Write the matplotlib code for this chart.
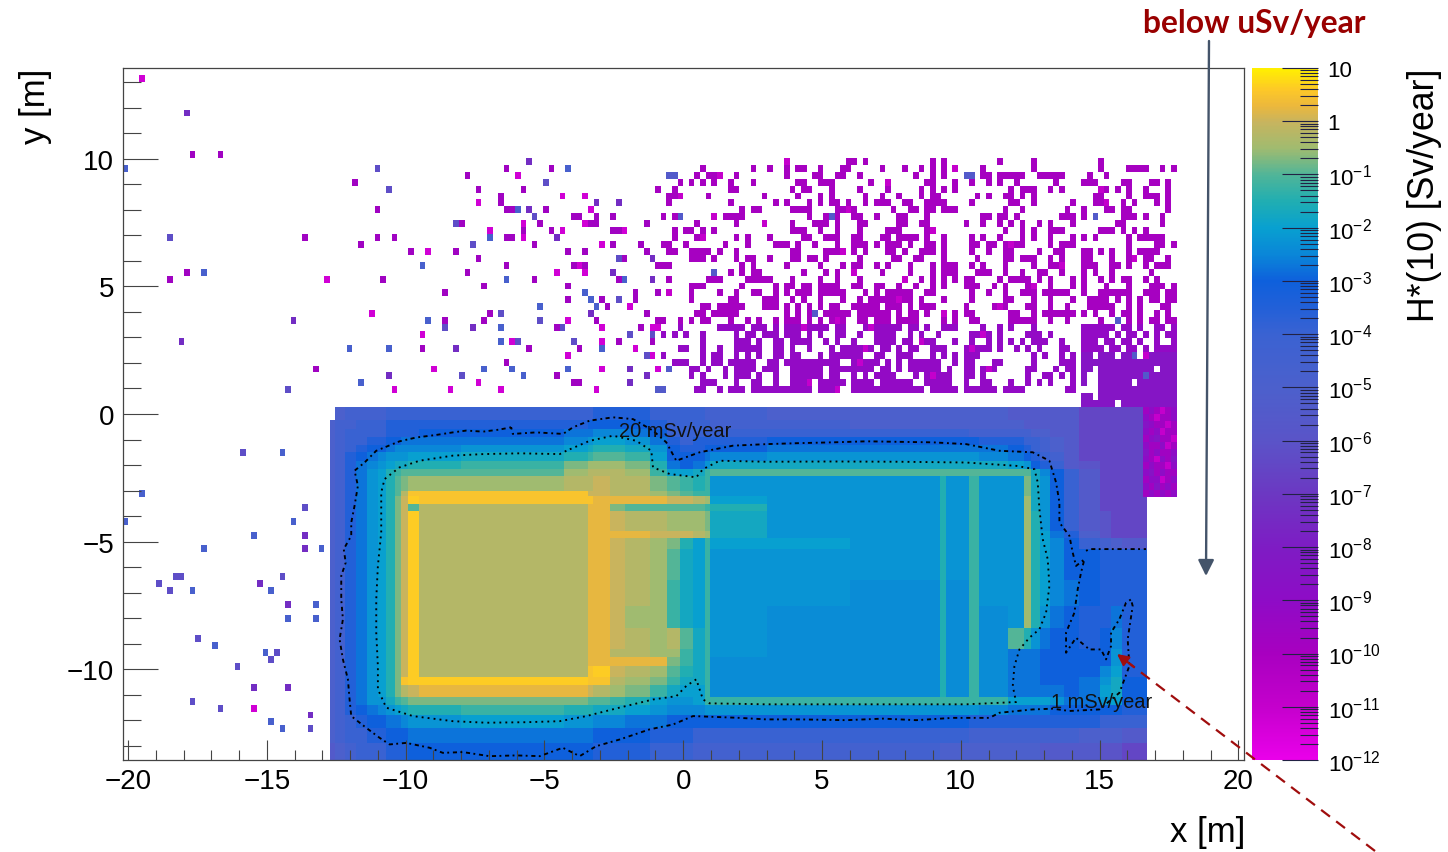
import numpy as np
import matplotlib
matplotlib.use('Agg')
from matplotlib import pyplot as plt
from matplotlib.colors import LinearSegmentedColormap, LogNorm
from matplotlib.lines import Line2D
from matplotlib.ticker import FixedLocator, FixedFormatter, LogLocator, NullFormatter, MultipleLocator

plt.rcParams['font.family'] = ['Liberation Sans', 'DejaVu Sans']
plt.rcParams['mathtext.fontset'] = 'custom'
plt.rcParams['mathtext.rm'] = 'Liberation Sans'
plt.rcParams['mathtext.default'] = 'regular'

# log10 of the dose for each letter used in the tables below
levels = dict(a=-6.5, b=-6, c=-5.5, d=-5, e=-4.5, f=-4, g=-3.5, h=-3, i=-2.75, j=-2.5, K=-2.38, k=-2.25,
              l=-2, m=-1.75, n=-1.5, o=-1.25, p=-1, q=-0.75, r=-0.5, s=-0.25, t=0, u=0.25, v=0.5, w=0.62,
              B=-8.5, U=-9, V=-9.7, M=-11)

# colour bar, log10 value and colour
cbar_pos = [-12, -11, -10, -9, -8, -7, -6, -5, -4, -3.5, -3, -2.5, -2, -1.5, -1, -0.5, 0, 0.3, 0.6, 1]
cbar_col = ['#ea00ea', '#c400cc', '#a800c0', '#8e0cc6', '#7e1cc4', '#6c38c2', '#5a54c8', '#4c60cc', '#3a62d2',
            '#2260d8', '#0e60dc', '#0a86d8', '#08a0d0', '#20aeb2', '#50b598', '#a0bb70', '#c8b45e', '#ecb83c',
            '#fdc828', '#fff000']
cbar_ticks = [1e-12, 1e-11, 1e-10, 1e-9, 1e-8, 1e-7, 1e-6, 1e-5, 1e-4, 1e-3, 1e-2, 1e-1, 1, 10]
cbar_labels = ['10$^{-12}$', '10$^{-11}$', '10$^{-10}$', '10$^{-9}$', '10$^{-8}$', '10$^{-7}$', '10$^{-6}$',
               '10$^{-5}$', '10$^{-4}$', '10$^{-3}$', '10$^{-2}$', '10$^{-1}$', '1', '10']

# the simulated hall, cell edges in metres
hall_x = [-12.72, -12.55, -12.2, -11.8, -11.4, -11.0, -10.7, -10.4, -10.15, -9.9, -9.53, -8, -6, -4.3, -3.43, -3.25,
          -2.65, -2.1, -1.2, -0.6, -0.1, 0.35, 0.77, 0.98, 3, 6, 9.25, 9.47, 10.31, 10.67, 11.71, 12.29, 12.53,
          12.85, 13.2, 13.7, 14.27, 15.0, 15.4, 15.8, 16.72, 17.77]
hall_y = [0.27, -0.24, -0.6, -0.9, -1.2, -1.5, -1.85, -2.16, -2.42, -3.0, -3.23, -3.53, -3.8, -4.6, -4.85, -5.3,
          -6.5, -7.5, -8.4, -9.2, -9.5, -9.85, -10.3, -10.6, -11.1, -11.41, -11.8, -12.3, -12.9, -13.55]
hall_rows = [
    '.deeeeffff fffffgggff ffeedddddd ccccccaaaaB',
    'deefffgggg gggghhhhgf fffeeddddd dcccccaaaaB',
    'deffffgggg hhhiijjihf ffffffffee eeddccaaaaB',
    'deffgghhii iiijkllkig fggghhhhhg gffedcaaaaB',
    'defghhijjj jkklmnnmkh gghhiiiiii hgfedcaaaaB',
    'deghijkkkl lmmnoppolh hhijkkkkkj ihgfecaaaaB',
    'degijklmmn nooqrrrqni hikmmmmmmm lkhgfcbaaaB',
    'degiklnopp ppprsssrol lmoppppppp ppmjhfcaaaB',
    'degiklnpqr rrrsstssqp onokkknkok kqmkhfcaaaB',
    'degiklnpsv vvvvttssrq pookkknkok kqmkhfcaaaB',
    'degiklnqtw vvvvvuuuut tsrlkknkok krmkhfcaaa.',
    'degiklnqtp ssssuuqppp pponkknkok krmkhfcaaa.',
    'degiklnqtw ssssuutssr rrqmkknkok krnkhfcbaa.',
    'degiklnqtw ssssuuuutt tsrmkknkok krnligdbaa.',
    'degiklnqtw ssssuutsrq nlollknkok krnljhfedc.',
    'degiklnqtw ssssuutsrp mlokkknkok krnljhhggg.',
    'degiklnqtw ssssuutsro mlokkKnKok krnljihggg.',
    'degiklnqtw ssssuutrro mlokKKnKoK krnkihggig.',
    'degiklnqtw ssssuutsrs pmokKKnKoK pnkihhghjg.',
    'degiklnqtw ssssuussrr omokKKnKoK iiihhhhhkg.',
    'degiklnqtw ssssuuuuuq omoKKKnKoK iiihhhhhkg.',
    'degiklnqtw ssssvwtsrp nmoKKKnKoK iiihhhhjlg.',
    'degiklnqvw wwwwvvsrqo mmoKKKnKoK iiihhhikmh.',
    'degiklnqst uuuutsrqom lloKKKnKoK iiiiihilmh.',
    'degikkmopq qqqqpponlk kloooooooo llllkiiklh.',
    'deghijklmn noonnmmlkj jjkkkkkkkj iiiihhhhhg.',
    'defghhiijk kllkkjjiih hhhhhhhhgg gggggggfff.',
    'deffgghhhi iiiiihhhgg gfffffffee eeeeeedddc.',
    'cdefffgggh hhhhhgggff feeeeedddd dddccccbba.',
]

# isolated cells as (column, row) of the 200 x 100 histogram
cells_blue = [(0, 14), (14, 29), (53, 28), (54, 36), (47, 40), (40, 40), (42, 45), (70, 20), (65, 24), (79, 14),
              (68, 30), (89, 30), (82, 32), (83, 33), (84, 34), (74, 34), (67, 37), (67, 39), (85, 40), (69, 43),
              (64, 43), (71, 44), (79, 43), (97, 43), (28, 55), (3, 61), (0, 65), (30, 65), (23, 67), (14, 69),
              (35, 69), (12, 75), (26, 75), (34, 77), (29, 79), (34, 79), (16, 83), (25, 84), (26, 94), (28, 95)]
cells_indigo = [(8, 24), (29, 46), (45, 14), (47, 17), (57, 37), (60, 44), (59, 22), (73, 21), (75, 16), (62, 25),
                (88, 27), (88, 33), (67, 35), (74, 36), (78, 37), (94, 38), (90, 38), (70, 39), (80, 39), (93, 41),
                (96, 46), (21, 55), (32, 63), (9, 73), (10, 73), (28, 73), (6, 74), (8, 75), (13, 82), (27, 84),
                (26, 85), (20, 86), (12, 91), (17, 92), (33, 95)]
cells_purple = [(11, 6), (10, 39), (30, 36), (47, 44), (59, 40), (72, 13), (72, 20), (84, 19), (88, 19), (77, 24),
                (87, 29), (94, 27), (94, 30), (62, 37), (83, 35), (96, 36), (90, 43), (90, 45), (93, 44), (32, 67),
                (32, 69), (24, 74), (29, 77), (23, 89), (29, 89), (33, 93)]
cells_violet = [(12, 12), (17, 12), (32, 24), (11, 29), (8, 30), (34, 43), (41, 16), (45, 20), (45, 24), (48, 24),
                (42, 25), (46, 30), (51, 26), (57, 32), (57, 36), (53, 40), (60, 22), (59, 26), (61, 15), (63, 17),
                (68, 14), (67, 18), (67, 19), (68, 20), (69, 20), (71, 17), (76, 14), (75, 20), (84, 21), (80, 21),
                (81, 21), (83, 22), (84, 22), (74, 22), (71, 23), (76, 23), (68, 24), (69, 24), (63, 27), (61, 29),
                (68, 28), (73, 25), (79, 26), (82, 26), (87, 25), (89, 27), (87, 23), (88, 23), (87, 21), (93, 22),
                (80, 28), (82, 28), (73, 30), (79, 31), (64, 31), (88, 30), (93, 26), (92, 25), (96, 25), (79, 33),
                (85, 33), (86, 34), (91, 32), (91, 33), (95, 32), (65, 35), (64, 36), (84, 36), (77, 37), (93, 35),
                (95, 36), (92, 37), (96, 38), (72, 40), (81, 40), (88, 39), (94, 39), (96, 41), (68, 42), (77, 44),
                (80, 45), (81, 45), (95, 46)]
cells_magenta = [(3, 1), (36, 30), (54, 26), (44, 35), (53, 38), (55, 43), (48, 46), (58, 46), (63, 19), (70, 15),
                 (78, 18), (82, 18), (83, 20), (82, 22), (71, 22), (71, 24), (78, 23), (65, 23), (85, 25), (89, 23),
                 (81, 28), (82, 29), (77, 29), (90, 34), (79, 36), (85, 37), (94, 37), (95, 37), (69, 39), (85, 39),
                 (91, 40), (79, 41), (94, 41), (85, 43), (95, 43), (63, 45), (67, 46), (84, 46), (23, 92)]

# cells above the hall on the right, read by row: {row: picture columns}
right_rows = {
    13: [24, 36, 37, 39, 52, 54, 64, 71, 83],
    14: [8, 18, 21, 24, 26, 27, 30, 35, 36, 42, 46, 49, 51, 54, 56, 61, 71, 83, 89, 90, 91, 92, 95, 97],
    15: [2, 3, 7, 9, 10, 11, 15, 24, 29, 30, 33, 35, 38, 48, 51, 54, 58, 59, 61, 62, 64, 65, 66, 67, 68, 72, 73, 74,
         75, 76, 81, 84],
    16: [4, 6, 8, 10, 13, 18, 26, 27, 30, 31, 32, 40, 43, 50, 51, 56, 59, 62, 64, 67, 75, 80, 81, 82, 87, 89, 93, 94,
         96],
    17: [0, 3, 13, 14, 25, 27, 28, 32, 38, 43, 49, 51, 54, 56, 66, 68, 69, 70, 74, 76, 83, 84, 86, 89, 92, 96],
    18: [2, 3, 4, 9, 20, 26, 30, 32, 39, 42, 45, 49, 51, 52, 53, 60, 62, 65, 66, 68, 70, 82, 83, 89, 92, 93, 94, 96],
    19: [2, 13, 22, 24, 28, 30, 32, 33, 36, 39, 41, 42, 43, 46, 47, 50, 52, 53, 54, 59, 66, 67, 71, 78, 82, 83, 84,
         87, 90, 94, 96],
    20: [16, 18, 19, 25, 26, 27, 28, 34, 35, 36, 37, 44, 47, 48, 50, 51, 54, 55, 56, 65, 68, 77, 80, 84, 85, 87, 88,
         96],
    21: [1, 3, 4, 10, 12, 13, 14, 16, 28, 31, 32, 33, 34, 37, 38, 41, 45, 46, 50, 61, 62, 64, 65, 67, 76, 77, 78, 80,
         82, 87, 88, 90, 92, 95],
    22: [7, 14, 15, 20, 25, 29, 30, 31, 33, 38, 39, 45, 46, 49, 50, 58, 61, 64, 66, 68, 72, 74, 78, 86, 87, 95],
    23: [3, 5, 6, 8, 10, 25, 26, 27, 30, 34, 38, 43, 44, 45, 50, 51, 52, 65, 68, 70, 71, 74, 75, 76, 83, 84, 85, 87,
         90, 92],
    24: [3, 7, 8, 14, 15, 17, 21, 27, 28, 31, 32, 34, 37, 38, 42, 43, 45, 46, 47, 48, 50, 54, 59, 61, 64, 68, 70, 74,
         78, 80, 82, 88, 91, 92, 93, 94, 95],
    25: [1, 2, 5, 12, 17, 22, 23, 24, 26, 29, 34, 37, 38, 39, 41, 43, 44, 45, 47, 50, 51, 54, 59, 60, 62, 63, 65, 66,
         67, 68, 74, 76, 77, 78, 89, 94, 95, 97],
    26: [2, 3, 6, 7, 8, 9, 11, 14, 25, 26, 31, 32, 33, 35, 37, 39, 43, 44, 46, 49, 50, 51, 54, 59, 62, 65, 66, 72, 75,
         76, 80, 81, 83, 85, 89, 91, 92, 93, 94],
    27: [6, 7, 8, 10, 14, 17, 18, 21, 25, 26, 28, 29, 31, 38, 44, 45, 48, 49, 54, 60, 65, 66, 68, 69, 70, 74, 76, 80,
         81, 85, 88, 90, 92, 93, 96],
    28: [0, 1, 2, 16, 18, 24, 30, 35, 37, 38, 41, 43, 47, 51, 52, 54, 55, 56, 59, 61, 65, 70, 74, 75, 76, 80, 81, 82,
         85, 86, 88, 92, 94, 95, 96],
    29: [10, 13, 16, 18, 19, 27, 31, 33, 34, 37, 42, 47, 51, 54, 55, 56, 60, 61, 62, 65, 68, 72, 73, 76, 80, 82, 85,
         93],
    30: [2, 9, 10, 11, 17, 18, 19, 20, 21, 25, 30, 34, 38, 46, 49, 52, 54, 56, 58, 59, 64, 66, 67, 68, 69, 72, 74, 78,
         80, 83, 85, 87, 89, 92, 94],
    31: [6, 7, 8, 16, 22, 24, 25, 27, 28, 30, 31, 32, 33, 37, 38, 41, 42, 45, 48, 51, 54, 58, 59, 60, 63, 65, 69, 70,
         71, 74, 78, 80, 84, 88, 89, 93, 94, 95, 97],
    32: [2, 6, 11, 14, 18, 19, 22, 24, 26, 27, 28, 30, 31, 32, 34, 35, 39, 41, 43, 44, 45, 46, 47, 50, 51, 59, 62, 65,
         68, 69, 70, 71, 73, 74, 75, 76, 77, 80, 83, 84, 85, 86, 87, 88, 92, 93, 94, 96, 97],
    33: [6, 13, 15, 20, 21, 22, 25, 27, 30, 35, 38, 40, 41, 42, 43, 44, 45, 46, 47, 49, 54, 59, 65, 66, 70, 74, 78, 81,
         82, 83, 84, 86, 88, 91, 93, 94, 96, 97],
    34: [8, 9, 11, 12, 13, 15, 16, 20, 21, 22, 24, 26, 28, 30, 32, 33, 34, 37, 38, 39, 40, 41, 43, 44, 45, 47, 49, 50,
         52, 58, 63, 64, 65, 69, 70, 74, 77, 81, 82, 83, 84, 85, 88, 89, 91, 95, 96],
    35: [7, 8, 10, 11, 12, 13, 15, 24, 26, 28, 29, 31, 32, 33, 34, 35, 36, 38, 39, 40, 41, 42, 43, 45, 47, 48, 50, 54,
         56, 58, 59, 66, 67, 70, 73, 74, 75, 76, 77, 78, 80, 82, 85, 87, 88, 89, 91, 94, 96],
    36: [0, 1, 4, 6, 8, 9, 13, 17, 19, 22, 24, 25, 26, 28, 30, 32, 33, 34, 35, 38, 39, 41, 42, 43, 45, 46, 47, 48, 54,
         56, 59, 60, 66, 67, 68, 69, 70, 71, 74, 77, 83, 86, 88, 89, 91, 93, 94, 96, 97],
    37: [4, 11, 12, 13, 15, 16, 18, 19, 20, 22, 24, 25, 26, 27, 28, 29, 30, 31, 33, 35, 39, 40, 41, 42, 43, 44, 45, 47,
         48, 50, 54, 55, 56, 61, 64, 66, 70, 71, 80, 81, 82, 83, 84, 85, 87, 89, 91, 94, 95, 97],
    38: [1, 3, 5, 8, 14, 15, 17, 18, 20, 21, 22, 24, 25, 26, 28, 30, 33, 34, 35, 38, 41, 42, 43, 44, 47, 49, 53, 59, 60,
         61, 62, 64, 69, 70, 72, 74, 80, 81, 82, 83, 84, 86, 88, 90, 92, 94, 96, 97],
    39: [8, 15, 16, 17, 19, 22, 23, 25, 26, 27, 28, 31, 33, 34, 37, 41, 42, 43, 44, 46, 47, 49, 50, 52, 56, 59, 62, 64,
         66, 68, 70, 72, 73, 76, 80, 81, 82, 84, 85, 87, 89, 91, 94, 97],
    40: [4, 5, 8, 11, 14, 15, 16, 17, 18, 19, 22, 23, 25, 28, 32, 35, 36, 37, 38, 39, 40, 42, 43, 45, 47, 48, 51, 53,
         54, 58, 59, 60, 61, 62, 64, 67, 69, 72, 76, 77, 80, 81, 82, 83, 85, 86, 88, 89, 90, 92, 94, 95, 96, 97],
    41: [1, 8, 10, 11, 15, 17, 19, 22, 23, 25, 26, 30, 32, 34, 35, 36, 37, 38, 41, 42, 45, 46, 47, 51, 52, 54, 56, 58,
         59, 60, 70, 73, 76, 78, 80, 81, 83, 84, 85, 87, 88, 89, 90, 92, 93, 94, 95, 96, 97],
    42: [3, 4, 5, 8, 10, 11, 13, 15, 16, 17, 18, 21, 22, 24, 25, 26, 27, 28, 29, 30, 31, 32, 34, 37, 38, 39, 40, 41, 43,
         45, 47, 48, 49, 50, 51, 53, 56, 58, 59, 63, 64, 71, 76, 77, 78, 80, 81, 82, 83, 84, 85, 86, 87, 88, 89, 90, 91,
         92, 93, 94, 95, 96, 97],
    43: [2, 6, 7, 9, 12, 15, 16, 17, 18, 20, 21, 22, 25, 26, 27, 28, 29, 30, 32, 33, 34, 35, 36, 37, 38, 39, 40, 42, 43,
         45, 47, 48, 49, 50, 51, 52, 53, 55, 58, 59, 61, 62, 63, 69, 70, 75, 77, 78, 80, 81, 83, 84, 85, 86, 87, 88, 89,
         90, 91, 92, 93, 95, 96, 97],
    44: [6, 8, 12, 14, 15, 16, 17, 19, 22, 25, 26, 27, 28, 29, 30, 32, 34, 37, 39, 41, 42, 43, 44, 48, 50, 51, 52, 53,
         54, 55, 58, 59, 61, 69, 73, 74, 76, 78, 80, 83, 84, 85, 86, 87, 88, 89, 90, 91, 92, 93, 94, 95, 96, 97],
    45: [8, 9, 10, 14, 15, 18, 19, 22, 25, 26, 27, 28, 30, 31, 32, 33, 34, 35, 37, 38, 39, 40, 42, 43, 44, 45, 46, 47,
         50, 51, 52, 53, 54, 55, 58, 61, 62, 66, 69, 72, 74, 78, 80, 83, 84, 85, 86, 87, 88, 89, 91, 92, 93, 94, 95, 96,
         97],
    46: [0, 1, 7, 8, 11, 13, 15, 16, 18, 19, 20, 21, 22, 23, 24, 25, 26, 27, 28, 30, 31, 32, 33, 34, 37, 38, 39, 40, 41,
         42, 43, 44, 45, 46, 47, 48, 49, 51, 52, 53, 54, 55, 56, 58, 59, 60, 61, 62, 63, 65, 66, 67, 68, 77, 78, 83, 84,
         85, 86, 87, 88, 89, 90, 91, 92, 93, 94, 95, 96, 97],
    47: [80, 81, 83, 84, 85, 86, 87, 88, 89, 90, 91, 92, 93, 94, 95, 96, 97],
    48: [80, 81, 82, 83, 84, 85, 87, 88, 89, 90, 91, 92, 93, 94, 95, 96, 97],
}
right_magenta = [(13, 24), (15, 11), (21, 10), (22, 20), (14, 56), (24, 8), (18, 4), (32, 2), (16, 43), (20, 36),
                 (25, 66), (28, 76), (37, 40), (40, 59), (43, 62), (46, 34), (41, 92), (27, 90), (30, 46), (35, 54),
                 (23, 52), (26, 35), (31, 71), (33, 45), (36, 33), (38, 61), (39, 49), (42, 38), (44, 52), (45, 28),
                 (34, 64), (29, 37), (19, 84), (17, 83), (37, 27), (40, 39)]
right_blue = [(15, 2), (15, 3), (15, 58), (15, 59), (21, 4), (21, 32), (29, 10), (35, 29), (43, 2), (36, 86),
              (21, 82), (46, 0), (46, 1), (44, 92), (41, 90)]

# mottled strip at the right end of the block, columns 182-187 from row 49
strip_rows = ['VUVMVU', 'UVMVVU', 'BUVVMV', 'UVUMVV', 'VUBVVM', 'UVVUMV', 'BVUVVU', 'UVMUVB', 'VUVVMU', 'UBVUVV',
              'VUUMVU', 'UVBVUV', 'VUVUVU']

# dose contours, metres
mSv1_x = [-6.20, -6.62, -7.21, -7.82, -8.30, -8.90, -9.62, -10.22, -11.06, -11.48, -11.84, -11.72, -11.84, -11.96,
          -11.96, -12.23, -12.16, -12.32, -12.32, -12.26, -12.38, -12.26, -12.08, -12.02, -11.96, -11.42, -10.94,
          -10.58, -9.98, -9.14, -8.66, -7.94, -6.98, -6.02, -5.17, -4.34, -3.73, -3.14, -2.30, -1.21, -0.37, 0.35,
          1.07, 2.03, 2.99, 4.19, 5.87, 7.19, 8.39, 9.71, 11.03, 11.39, 12.59, 13.31, 13.91, 14.99, 15.71, 16.07,
          16.01, 16.19, 16.13, 15.95, 15.71, 15.41, 15.41, 15.23, 15.05, 14.63, 14.27, 14.15, 13.79, 13.79, 14.09,
          14.21, 14.33, 14.45, 14.15, 14.03, 13.91, 13.55, 13.55, 13.43, 13.19, 12.59, 11.39, 10.19, 8.99, 7.79,
          6.59, 5.39, 4.19, 2.99, 1.79, 0.59, -0.25, -0.61, -1.09, -1.81, -2.53, -3.37, -3.97, -4.33, -5.30, -6.14,
          -6.20]
mSv1_y = [-0.52, -0.61, -0.69, -0.65, -0.72, -0.82, -0.92, -1.07, -1.44, -1.90, -2.22, -2.81, -3.59, -4.25, -4.77,
          -5.29, -5.82, -6.34, -7.26, -8.04, -8.82, -9.61, -10.39, -11.18, -11.83, -12.29, -12.68, -12.94, -12.88,
          -13.07, -13.27, -13.24, -13.40, -13.37, -13.40, -13.07, -13.40, -13.01, -12.75, -12.35, -12.16, -11.83,
          -11.86, -11.90, -11.96, -11.96, -11.99, -11.93, -11.99, -11.90, -11.90, -11.70, -11.57, -11.54, -11.63,
          -11.57, -10.92, -9.87, -8.82, -7.52, -7.26, -7.39, -8.04, -8.56, -9.09, -9.61, -9.22, -9.22, -8.89, -8.76,
          -9.35, -8.56, -7.78, -6.86, -6.21, -5.69, -5.95, -5.43, -4.77, -4.25, -3.46, -2.68, -1.83, -1.50, -1.44,
          -1.18, -1.11, -1.09, -1.07, -1.11, -1.14, -1.18, -1.24, -1.50, -1.83, -1.11, -0.65, -0.20, -0.13, -0.26,
          -0.52, -0.78, -0.72, -0.78, -0.52]
mSv1_side_x = [14.51, 14.63, 15.35, 16.67]
mSv1_side_y = [-5.36, -5.29, -5.29, -5.29]
mSv20_x = [-4.21, -4.45, -5.90, -7.21, -8.30, -9.50, -10.22, -10.76, -10.88, -10.88, -11.00, -11.06, -11.06, -11.00,
           -11.00, -10.70, -9.74, -8.30, -7.10, -5.66, -4.45, -3.49, -2.30, -1.09, -0.25, 0.11, 0.47, 0.71, 0.95,
           2.99, 5.39, 7.79, 10.19, 11.99, 11.87, 11.93, 12.11, 12.47, 12.83, 13.07, 13.19, 13.13, 12.95, 12.83,
           12.77, 12.65, 11.99, 10.19, 7.79, 5.39, 2.99, 1.31, 0.71, 0.47, -0.49, -1.09, -1.15, -1.69, -2.53, -3.37,
           -4.21]
mSv20_y = [-1.44, -1.57, -1.54, -1.57, -1.63, -1.83, -2.09, -2.55, -3.07, -4.64, -5.95, -7.26, -8.56, -9.87, -10.78,
           -11.50, -11.83, -12.03, -12.09, -12.07, -12.03, -11.83, -11.50, -11.18, -11.05, -10.65, -10.39, -11.18,
           -11.33, -11.37, -11.37, -11.37, -11.37, -11.28, -10.65, -9.87, -9.22, -8.76, -8.43, -7.78, -6.73, -5.69,
           -4.90, -3.73, -2.68, -2.16, -2.03, -1.90, -1.87, -1.86, -1.87, -1.83, -2.16, -2.48, -2.35, -2.09, -1.44,
           -1.05, -0.85, -1.05, -1.44]

W, H = 1448, 853
fig = plt.figure(figsize=(W / 100, H / 100), dpi=100)


def box(x0, y0, x1, y1):
    return [x0 / W, 1 - y1 / H, (x1 - x0) / W, (y1 - y0) / H]


ax = fig.add_axes(box(122.5, 69, 1244, 761))
cax = fig.add_axes(box(1252, 69, 1318, 761))

cmap = LinearSegmentedColormap.from_list(
    'dose', [((p + 12) / 13, c) for p, c in zip(cbar_pos, cbar_col)], N=512)
norm = LogNorm(1e-12, 10)

# hall
hall = np.array([[np.nan if c == '.' else 10.0 ** levels[c] for c in r.replace(' ', '')] for r in hall_rows])
ax.pcolormesh(hall_x, hall_y, np.ma.masked_invalid(hall), cmap=cmap, norm=norm, antialiased=False)

# isolated histogram cells
grid = np.full((100, 200), np.nan)
for cells, v in [(cells_blue, -4.8), (cells_indigo, -6.2), (cells_purple, -7.4), (cells_violet, -9.7),
                 (cells_magenta, -11.3)]:
    for i, r in cells:
        grid[r, i] = 10.0 ** v


def right_col(j):
    # the columns were counted on a slightly coarser ruler than the histogram
    return int(round(95.3 + j * 0.946))


for r, cols in right_rows.items():
    for j in cols:
        v = -8.4 if (r >= 41 and j >= 80) else (-9.2 if r >= 37 else -9.9)
        grid[r, right_col(j)] = 10.0 ** v
for r, j in right_magenta:
    grid[r, right_col(j)] = 10.0 ** -11
for r, j in right_blue:
    grid[r, right_col(j)] = 10.0 ** -5.5
for k, row in enumerate(strip_rows):
    for n, c in enumerate(row):
        grid[49 + k, 182 + n] = 10.0 ** levels[c]

x_bins = np.linspace(-20.2, 20.2, 201)
y_bins = np.linspace(13.55, -13.55, 101)
ax.pcolormesh(x_bins, y_bins, np.ma.masked_invalid(grid), cmap=cmap, norm=norm, antialiased=False)

# contours
dots = dict(color='black', lw=1.35, linestyle=(0, (1, 2.0, 2.2, 1.8)))
ax.plot(mSv1_x, mSv1_y, **dots)
ax.plot(mSv1_side_x, mSv1_side_y, **dots)
ax.plot(mSv20_x, mSv20_y, color='black', lw=1.35, linestyle=(0, (1, 2.2)))
ax.text(-2.33, -0.63, '20 mSv/year', fontsize=14.4, va='center', ha='left', color='#111111')
ax.text(13.26, -11.25, '1 mSv/year', fontsize=14.4, va='center', ha='left', color='#111111')

ax.set_xlim(-20.2, 20.2)
ax.set_ylim(-13.55, 13.55)
ax.xaxis.set_major_locator(MultipleLocator(5))
ax.xaxis.set_minor_locator(MultipleLocator(1))
ax.yaxis.set_major_locator(MultipleLocator(5))
ax.yaxis.set_minor_locator(MultipleLocator(1))
ax.tick_params(axis='x', which='major', direction='in', length=14.4, width=0.8, color='#444444', labelsize=20, pad=6)
ax.tick_params(axis='x', which='minor', direction='in', length=7.2, width=0.8, color='#444444')
ax.tick_params(axis='y', which='major', direction='in', length=25, width=0.8, color='#444444', labelsize=20, pad=6)
ax.tick_params(axis='y', which='minor', direction='in', length=13, width=0.8, color='#444444')
for s in ax.spines.values():
    s.set_color('#444444')
    s.set_linewidth(0.9)

# colour bar
sm = plt.cm.ScalarMappable(norm=norm, cmap=cmap)
cb = fig.colorbar(sm, cax=cax)
cb.outline.set_visible(False)
cax.yaxis.set_major_locator(FixedLocator(cbar_ticks))
cax.yaxis.set_major_formatter(FixedFormatter(cbar_labels))
cax.yaxis.set_minor_locator(LogLocator(base=10, subs=(2, 3, 4, 5, 6, 7, 8, 9), numticks=20))
cax.yaxis.set_minor_formatter(NullFormatter())
cax.yaxis.set_ticks_position('right')
cax.tick_params(axis='y', which='major', direction='in', length=26, width=0.8, color='#222244', labelsize=16, pad=7)
cax.tick_params(axis='y', which='minor', direction='in', length=13, width=0.8, color='#222244')

fig.text(1245 / W, 1 - 833 / H, 'x [m]', fontsize=25, ha='right', va='center')
fig.text(35 / W, 1 - 106 / H, 'y [m]', fontsize=25, rotation=90, ha='center', va='center')
fig.text(1425 / W, 1 - 195 / H, 'H*(10) [Sv/year]', fontsize=25.7, rotation=90, ha='center', va='center')
fig.text(1254 / W, 1 - 23 / H, 'below uSv/year', fontsize=22.9, fontweight='bold', family=['Lato', 'DejaVu Sans'],
         color='#990000', ha='center', va='center')

# annotation arrows, figure pixels from the bottom left
ax.annotate('', xy=(1206, H - 577), xytext=(1209, H - 42), xycoords='figure pixels', textcoords='figure pixels',
            arrowprops=dict(arrowstyle='-|>', color='#44546a', lw=1.7, mutation_scale=24, shrinkA=0, shrinkB=0),
            annotation_clip=False)
fig.add_artist(Line2D([1375 / W, 1130 / W], [1 - 852 / H, 1 - 665 / H], transform=fig.transFigure,
                      color='#a00d0d', lw=1.6, linestyle=(0, (5, 3.5))))
ax.annotate('', xy=(1117, H - 655), xytext=(1134, H - 668), xycoords='figure pixels', textcoords='figure pixels',
            arrowprops=dict(arrowstyle='-|>', color='#a00d0d', lw=1.6, mutation_scale=17, shrinkA=0, shrinkB=0),
            annotation_clip=False)

fig.savefig('out.png', dpi=100)
